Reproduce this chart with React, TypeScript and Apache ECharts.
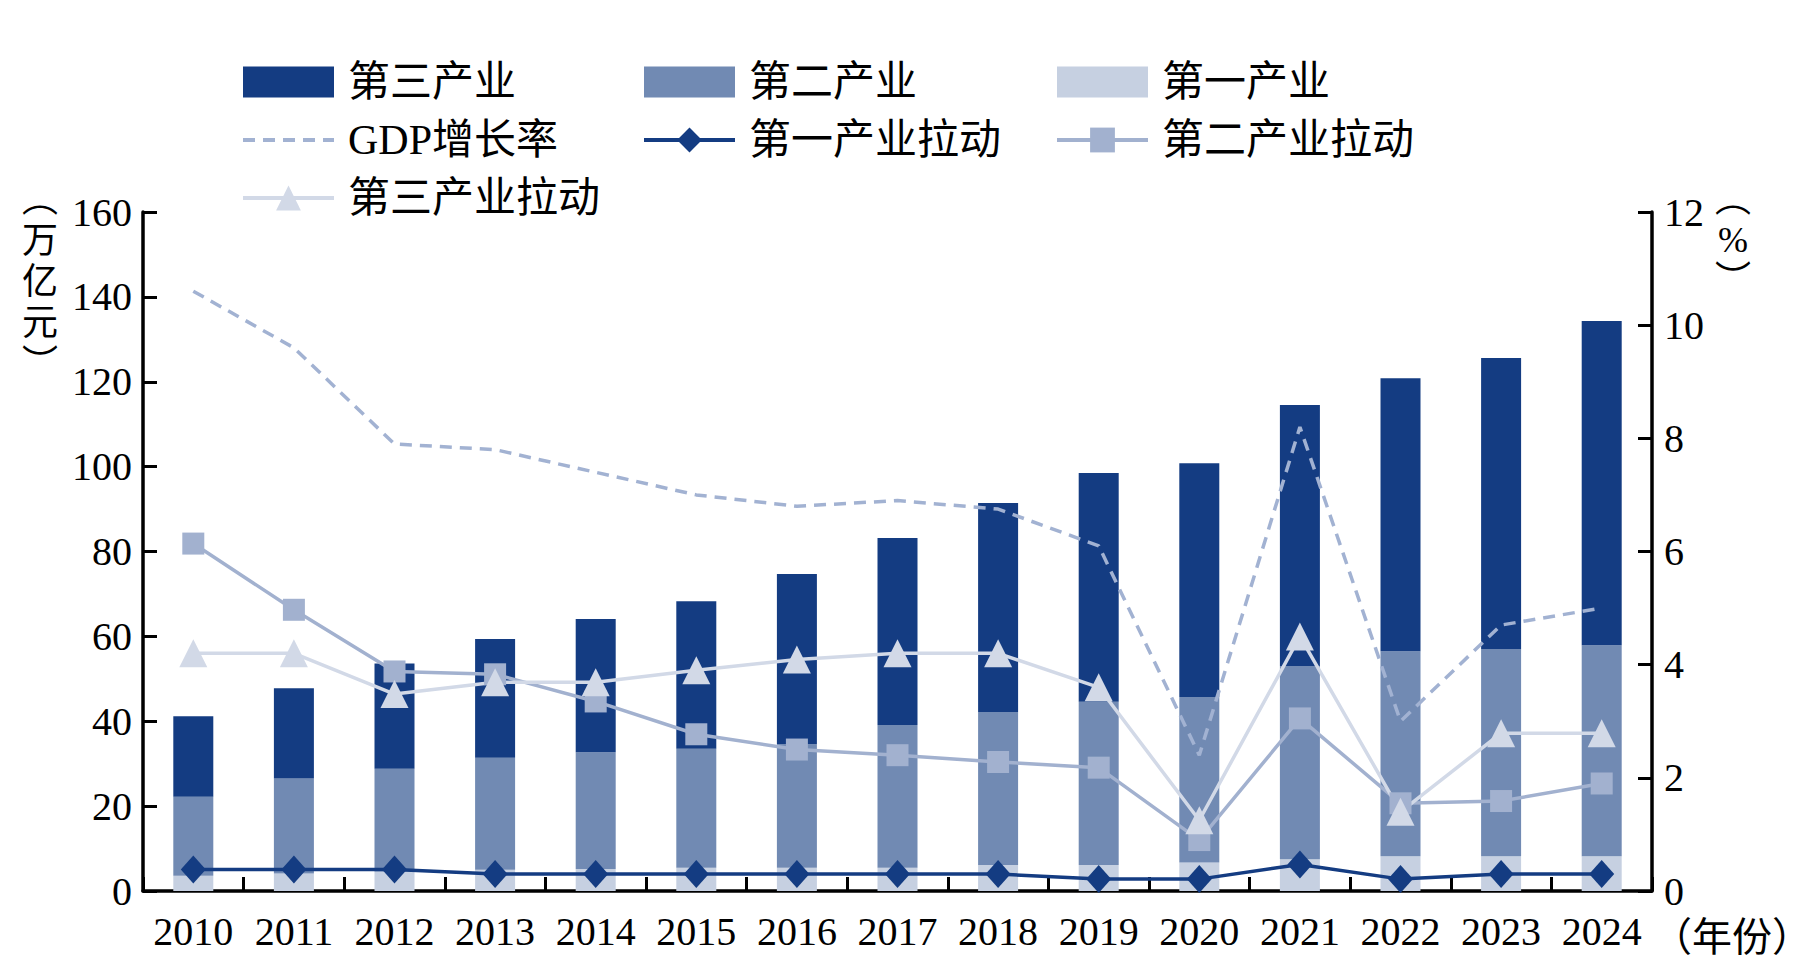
import React, { useEffect, useRef } from "react";
import * as echarts from "echarts";

const years = ["2010", "2011", "2012", "2013", "2014", "2015", "2016", "2017", "2018", "2019", "2020", "2021", "2022", "2023", "2024"];
// 万亿元
const primaryInd = [3.6, 4.1, 4.6, 5.0, 5.2, 5.5, 5.5, 5.5, 6.1, 6.1, 6.7, 7.5, 8.2, 8.2, 8.2];
const secondaryInd = [18.6, 22.4, 24.2, 26.4, 27.5, 28.0, 29.1, 33.6, 36.1, 38.5, 39.0, 45.5, 48.3, 48.8, 49.7];
const tertiaryInd = [19.0, 21.3, 24.8, 28.0, 31.4, 34.8, 40.1, 44.1, 49.2, 53.9, 55.1, 61.5, 64.3, 68.6, 76.4];
// %
const gdpGrowth = [10.6, 9.6, 7.9, 7.8, 7.4, 7.0, 6.8, 6.9, 6.75, 6.1, 2.4, 8.2, 3.0, 4.7, 5.0];
const primaryPull = [0.38, 0.38, 0.38, 0.3, 0.3, 0.3, 0.3, 0.3, 0.3, 0.21, 0.21, 0.47, 0.21, 0.3, 0.3];
const secondaryPull = [6.14, 4.97, 3.88, 3.83, 3.35, 2.77, 2.5, 2.4, 2.28, 2.18, 0.9, 3.05, 1.55, 1.59, 1.9];
const tertiaryPull = [4.2, 4.2, 3.48, 3.69, 3.69, 3.9, 4.09, 4.2, 4.2, 3.6, 1.25, 4.5, 1.4, 2.79, 2.79];

const leftTicks = { min: 0, max: 160, interval: 20 };
const rightTicks = { min: 0, max: 12, interval: 2 };

const C_DARK = "#143c82";
const C_MID = "#718ab3";
const C_LIGHT = "#c6d0e1";
const C_GDP = "#a2b2d2";
const C_SQ = "#a2b1cf";
const C_TRI = "#d2d9e7";

const SERIF = "'Liberation Serif', 'Noto Sans CJK SC', serif";

export default function App() {
  const ref = useRef<HTMLDivElement>(null);
  useEffect(() => {
    if (!ref.current) return;
    const chart = echarts.init(ref.current, undefined, { renderer: "svg" });
    const legendText = {
      fontSize: 42,
      fontFamily: SERIF,
      color: "#000",
      lineHeight: 42,
      padding: [0, 0, 0, 9],
    };
    const legendBase = {
      orient: "vertical" as const,
      top: 56,
      itemWidth: 91,
      itemHeight: 31,
      itemGap: 16,
      textStyle: legendText,
      lineStyle: { width: 4 },
      selectedMode: false,
    };
    const axisLine = { show: true, lineStyle: { color: "#000", width: 3.5 } };
    const axisTick = { show: true, inside: true, length: 14, lineStyle: { color: "#000", width: 3 } };
    const axisLabel = { fontSize: 40, fontFamily: SERIF, color: "#000" };
    chart.setOption({
      animation: false,
      backgroundColor: "#fff",
      grid: { left: 143, right: 168, top: 212, bottom: 89, containLabel: false },
      legend: [
        {
          ...legendBase,
          left: 236,
          data: [
            { name: "第三产业", icon: "rect" },
            { name: "GDP增长率", itemStyle: { color: "rgba(0,0,0,0)", opacity: 0 } },
            { name: "第三产业拉动" },
          ],
        },
        {
          ...legendBase,
          left: 637,
          data: [{ name: "第二产业", icon: "rect" }, { name: "第一产业拉动" }],
        },
        {
          ...legendBase,
          left: 1050,
          data: [{ name: "第一产业", icon: "rect" }, { name: "第二产业拉动" }],
        },
      ],
      xAxis: {
        type: "category",
        data: years,
        boundaryGap: true,
        axisLine,
        axisTick: { ...axisTick, alignWithLabel: false },
        axisLabel: { ...axisLabel, margin: 20, interval: 0 },
        splitLine: { show: false },
      },
      yAxis: [
        {
          type: "value",
          ...leftTicks,
          axisLine,
          axisTick,
          axisLabel: { ...axisLabel, margin: 11 },
          splitLine: { show: false },
        },
        {
          type: "value",
          position: "right",
          ...rightTicks,
          axisLine,
          axisTick,
          axisLabel: { ...axisLabel, margin: 12 },
          splitLine: { show: false },
        },
      ],
      series: [
        { name: "第一产业", type: "bar", stack: "gdp", barWidth: 40, data: primaryInd, itemStyle: { color: C_LIGHT } },
        { name: "第二产业", type: "bar", stack: "gdp", barWidth: 40, data: secondaryInd, itemStyle: { color: C_MID } },
        { name: "第三产业", type: "bar", stack: "gdp", barWidth: 40, data: tertiaryInd, itemStyle: { color: C_DARK } },
        {
          name: "GDP增长率",
          type: "line",
          yAxisIndex: 1,
          data: gdpGrowth,
          symbol: "none",
          lineStyle: { color: C_GDP, width: 3.5, type: [12, 8] },
          itemStyle: { color: C_GDP },
        },
        {
          name: "第二产业拉动",
          type: "line",
          yAxisIndex: 1,
          data: secondaryPull,
          symbol: "rect",
          symbolSize: 22,
          lineStyle: { color: C_SQ, width: 3.5 },
          itemStyle: { color: C_SQ },
        },
        {
          name: "第三产业拉动",
          type: "line",
          yAxisIndex: 1,
          data: tertiaryPull,
          symbol: "triangle",
          symbolSize: [28, 28],
          lineStyle: { color: C_TRI, width: 3.5 },
          itemStyle: { color: C_TRI },
        },
        {
          name: "第一产业拉动",
          type: "line",
          yAxisIndex: 1,
          data: primaryPull,
          symbol: "diamond",
          symbolSize: [25, 28],
          lineStyle: { color: C_DARK, width: 3.5 },
          itemStyle: { color: C_DARK },
        },
      ],
      graphic: [
        {
          type: "text",
          x: 40,
          y: 282,
          style: {
            text: "︵\n万\n亿\n元\n︶",
            fontSize: 36,
            fontFamily: SERIF,
            lineHeight: 41,
            fill: "#000",
            align: "center",
            verticalAlign: "middle",
          },
        },
        {
          type: "text",
          x: 1733,
          y: 240,
          style: {
            text: "︵\n%\n︶",
            fontSize: 36,
            fontFamily: SERIF,
            lineHeight: 40,
            fill: "#000",
            align: "center",
            verticalAlign: "middle",
          },
        },
        {
          type: "text",
          x: 1652,
          y: 937,
          style: {
            text: "（年份）",
            fontSize: 40,
            fontFamily: SERIF,
            fill: "#000",
            align: "left",
            verticalAlign: "middle",
          },
        },
      ],
    });
    return () => chart.dispose();
  }, []);
  return <div ref={ref} style={{ position: "fixed", left: 0, top: 0, width: 1820, height: 980 }} />;
}
